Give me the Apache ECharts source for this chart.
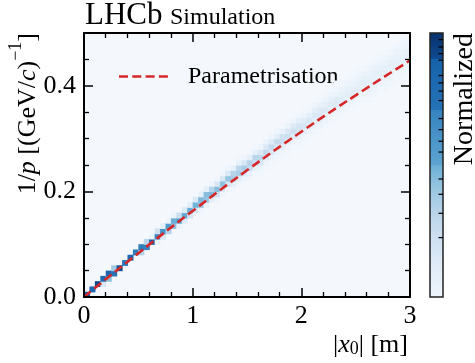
<!DOCTYPE html>
<html><head><meta charset="utf-8">
<script src="https://cdn.jsdelivr.net/npm/echarts@6/dist/echarts.min.js"></script>
<style>html,body{margin:0;padding:0;background:#fff}#c{width:475px;height:363px}</style>
</head><body><div id="c"></div>
<script>
// ---- data ----
const xTickValues = [0, 1, 2, 3];
const yTickValues = [0.0, 0.2, 0.4];
const binWidthX = 0.05;   // |x0| bin width [m]
const binWidthY = 0.01;   // 1/p bin width
// first non-empty 1/p row of every |x0| column
const histStartRow = [0,1,2,2,3,4,5,6,7,8,8,9,10,10,11,12,13,13,14,15,
  16,16,17,18,18,19,20,20,21,22,22,23,23,24,25,26,26,27,28,28,
  29,30,31,31,32,33,33,34,35,35,36,37,37,38,39,39,40,41,41,42];
// normalised density in the column, from histStartRow upward
const histValues = [
  [0.85],[0.8],[0.92],[0.15,0.78],[0.4,0.8],[0.75,0.35],[0.9],[0.72],[0.8],[0.7],
  [0.3,0.7],[0.68,0.28],[0.85,0.05],[0.05,0.66,0.2],[0.15,0.62,0.08],[0.3,0.58,0.05],[0.4,0.5,0.05],[0.06,0.55,0.22],[0.12,0.52,0.14],[0.18,0.5,0.1],
  [0.18,0.48,0.14],[0.04,0.38,0.44,0.08],[0.06,0.38,0.42,0.08],[0.1,0.44,0.3,0.04],[0.03,0.2,0.42,0.16,0.02],[0.03,0.16,0.4,0.16,0.03],[0.04,0.18,0.38,0.14,0.03],[0.02,0.1,0.34,0.3,0.08],[0.02,0.1,0.33,0.28,0.08,0.02],[0.03,0.14,0.33,0.16,0.04],
  [0.02,0.07,0.24,0.3,0.1,0.02],[0.02,0.08,0.22,0.29,0.09,0.02],[0.02,0.05,0.16,0.27,0.16,0.04],[0.02,0.05,0.14,0.26,0.14,0.05,0.01],[0.02,0.06,0.15,0.25,0.12,0.04],[0.02,0.06,0.15,0.24,0.1,0.03],[0.01,0.04,0.1,0.22,0.2,0.07,0.02],[0.02,0.04,0.11,0.21,0.15,0.06,0.02],[0.02,0.05,0.12,0.2,0.13,0.04,0.01],[0.01,0.03,0.09,0.18,0.18,0.09,0.02],
  [0.01,0.04,0.1,0.17,0.12,0.05,0.02],[0.02,0.05,0.1,0.16,0.1,0.04,0.01],[0.02,0.05,0.1,0.15,0.1,0.04,0.01],[0.01,0.03,0.07,0.14,0.13,0.07,0.02],[0.01,0.04,0.08,0.13,0.1,0.05,0.02],[0.01,0.04,0.08,0.125,0.09,0.05,0.01],[0.01,0.03,0.06,0.12,0.12,0.06,0.03,0.01],[0.01,0.03,0.07,0.115,0.08,0.05,0.02],[0.02,0.04,0.07,0.11,0.08,0.04,0.02],[0.01,0.03,0.06,0.105,0.1,0.06,0.03,0.01],
  [0.01,0.03,0.06,0.1,0.085,0.06,0.03,0.01],[0.02,0.04,0.065,0.1,0.08,0.05,0.02],[0.01,0.04,0.065,0.095,0.085,0.06,0.03,0.01],[0.02,0.04,0.065,0.095,0.08,0.055,0.03,0.01],[0.02,0.04,0.065,0.09,0.075,0.05,0.025],[0.02,0.035,0.06,0.09,0.08,0.055,0.03,0.01],[0.02,0.035,0.06,0.085,0.08,0.055,0.03,0.01],[0.02,0.035,0.06,0.085,0.075,0.05,0.03],[0.02,0.035,0.055,0.08,0.075,0.05,0.03,0.01],[0.02,0.035,0.055,0.08,0.07,0.05,0.03,0.01]
];
// parametrisation curve
const paramX = [0, 0.5, 1.0, 1.5, 2.0, 2.5, 3.0];
const paramY = [0, 0.083, 0.163, 0.240, 0.313, 0.382, 0.448];
const legendLabel = 'Parametrisation';
const colorbarLabel = 'Normalized';
// colorbar minor tick positions (fraction of bar height from the top)
const colorbarTickPos = [0.025, 0.053, 0.078, 0.103, 0.161, 0.189, 0.220, 0.256, 0.324, 0.366, 0.410, 0.451, 0.553, 0.611, 0.683, 0.775];

// ---- build ----
const cells = [];
histValues.forEach((vals, i) => vals.forEach((v, k) => {
  cells.push([i * binWidthX, (histStartRow[i] + k) * binWidthY, v]);
}));
const paramData = paramX.map((x, i) => [x, paramY[i]]);

const FONT = 'Liberation Serif';
const blues = ['#f4f8fd','#e3eef8','#d0e2f2','#b5d3ea','#8fc1de','#6aaed6','#4a97c9','#2f7dbc','#1c67ae','#0e4f95','#08306b'];
const txt = (size, extra) => Object.assign({fontFamily: FONT, fontSize: size, fontWeight: 'normal', fontStyle: 'normal', fill: '#000'}, extra || {});

const chart = echarts.init(document.getElementById('c'), null, {renderer: 'canvas'});

function axisBase() {
  return {
    axisLine: {show: true, onZero: false, lineStyle: {color: '#000', width: 2}},
    axisTick: {show: true, inside: true, length: 9, lineStyle: {color: '#000', width: 1.5}},
    splitLine: {show: false},
    z: 10
  };
}

const CB = {x: 430, y: 33, w: 13, h: 264};
const graphics = [
  {type: 'text', x: 85, y: 16, style: txt(31, {text: 'LHCb', verticalAlign: 'middle'})},
  {type: 'text', x: 170, y: 18, style: txt(24, {text: 'Simulation', verticalAlign: 'middle'})},
  {type: 'line', shape: {x1: 119, y1: 76.5, x2: 168, y2: 76.5},
    style: {stroke: '#d62728', lineWidth: 2.6, lineDash: [9, 4.3]}},
  {type: 'text', x: 188, y: 77, style: txt(24, {text: legendLabel, verticalAlign: 'middle'})},
  {type: 'rect', shape: {x: CB.x, y: CB.y, width: CB.w, height: CB.h},
    style: {stroke: '#222', lineWidth: 1.5, fill: {type: 'linear', x: 0, y: 1, x2: 0, y2: 0, colorStops: [
      {offset: 0, color: '#eff5fc'}, {offset: 0.15, color: '#dce9f6'}, {offset: 0.3, color: '#bfd7ec'},
      {offset: 0.42, color: '#95c4df'}, {offset: 0.5, color: '#6aaed6'},
      {offset: 0.5, color: '#5ea4d1'}, {offset: 0.708, color: '#3583c0'},
      {offset: 0.708, color: '#2572b6'}, {offset: 0.9, color: '#1662aa'},
      {offset: 0.9, color: '#0d4b90'}, {offset: 1, color: '#08306b'}]}}},
  {type: 'text', x: 465, y: 33, rotation: Math.PI / 2,
    style: txt(28, {text: colorbarLabel, align: 'right', verticalAlign: 'middle'})},
  {type: 'text', x: 408, y: 343,
    style: {text: '{n||}{i|x}{sub|0}{n|| [m]}', align: 'right', verticalAlign: 'middle',
      rich: {n: txt(26, {lineHeight: 30, verticalAlign: 'bottom'}),
             i: txt(26, {fontStyle: 'italic', lineHeight: 30, verticalAlign: 'bottom'}),
             sub: txt(18, {lineHeight: 24, verticalAlign: 'bottom'})}}},
  {type: 'text', x: 24, y: 33, rotation: Math.PI / 2,
    style: {text: '{n|1/}{i|p}{n| [(GeV/}{i|c}{n|)}{s|−1}{n|]}', align: 'right', verticalAlign: 'middle',
      rich: {n: txt(26, {lineHeight: 34, verticalAlign: 'bottom'}),
             i: txt(26, {fontStyle: 'italic', lineHeight: 34, verticalAlign: 'bottom'}),
             s: txt(18, {lineHeight: 18, verticalAlign: 'top'})}}}
];
colorbarTickPos.forEach(f => graphics.push({type: 'line', z: 100,
  shape: {x1: CB.x + CB.w, y1: CB.y + f * CB.h, x2: CB.x + CB.w - 4.5, y2: CB.y + f * CB.h},
  style: {stroke: '#000', lineWidth: 1.3}}));

const option = {
  animation: false,
  backgroundColor: '#fff',
  grid: {left: 84, top: 33, width: 326, height: 264, show: true, backgroundColor: '#f4f8fd', borderWidth: 0},
  visualMap: {show: false, type: 'continuous', min: 0, max: 1, dimension: 2, seriesIndex: 0, inRange: {color: blues}},
  xAxis: [
    Object.assign(axisBase(), {type: 'value', min: 0, max: 3, interval: 1, position: 'bottom',
      minorTick: {show: true, splitNumber: 5, length: 5, lineStyle: {color: '#000', width: 1.3}},
      axisLabel: {show: true, fontFamily: FONT, fontSize: 26, color: '#000', margin: 6,
        formatter: v => xTickValues.includes(v) ? String(v) : ''}}),
    Object.assign(axisBase(), {type: 'value', min: 0, max: 3, interval: 1, position: 'top',
      minorTick: {show: true, splitNumber: 5, length: 5, lineStyle: {color: '#000', width: 1.3}},
      axisLabel: {show: false}})
  ],
  yAxis: [
    Object.assign(axisBase(), {type: 'value', min: 0, max: 0.5, interval: 0.2, position: 'left',
      minorTick: {show: true, splitNumber: 4, length: 5, lineStyle: {color: '#000', width: 1.3}},
      axisLabel: {show: true, fontFamily: FONT, fontSize: 26, color: '#000', margin: 8, showMaxLabel: false,
        formatter: v => yTickValues.some(t => Math.abs(t - v) < 1e-9) ? v.toFixed(1) : ''}}),
    Object.assign(axisBase(), {type: 'value', min: 0, max: 0.5, interval: 0.2, position: 'right',
      minorTick: {show: true, splitNumber: 4, length: 5, lineStyle: {color: '#000', width: 1.3}},
      axisLabel: {show: false}})
  ],
  series: [
    {
      type: 'custom', xAxisIndex: 0, yAxisIndex: 0, data: cells, encode: {x: 0, y: 1},
      clip: true, z: 1,
      renderItem: function (params, api) {
        const x = api.value(0), y = api.value(1);
        const p1 = api.coord([x, y + binWidthY]);
        const p2 = api.coord([x + binWidthX, y]);
        return {type: 'rect',
          shape: {x: p1[0], y: p1[1], width: p2[0] - p1[0] + 0.6, height: p2[1] - p1[1] + 0.6},
          style: {fill: api.visual('color')}};
      }
    },
    {
      type: 'line', name: legendLabel, data: paramData, xAxisIndex: 0, yAxisIndex: 0,
      showSymbol: false, smooth: true, z: 5,
      lineStyle: {color: '#d62728', width: 2.6, type: [9, 4.3]}
    }
  ],
  graphic: graphics
};
chart.setOption(option);
</script></body></html>
